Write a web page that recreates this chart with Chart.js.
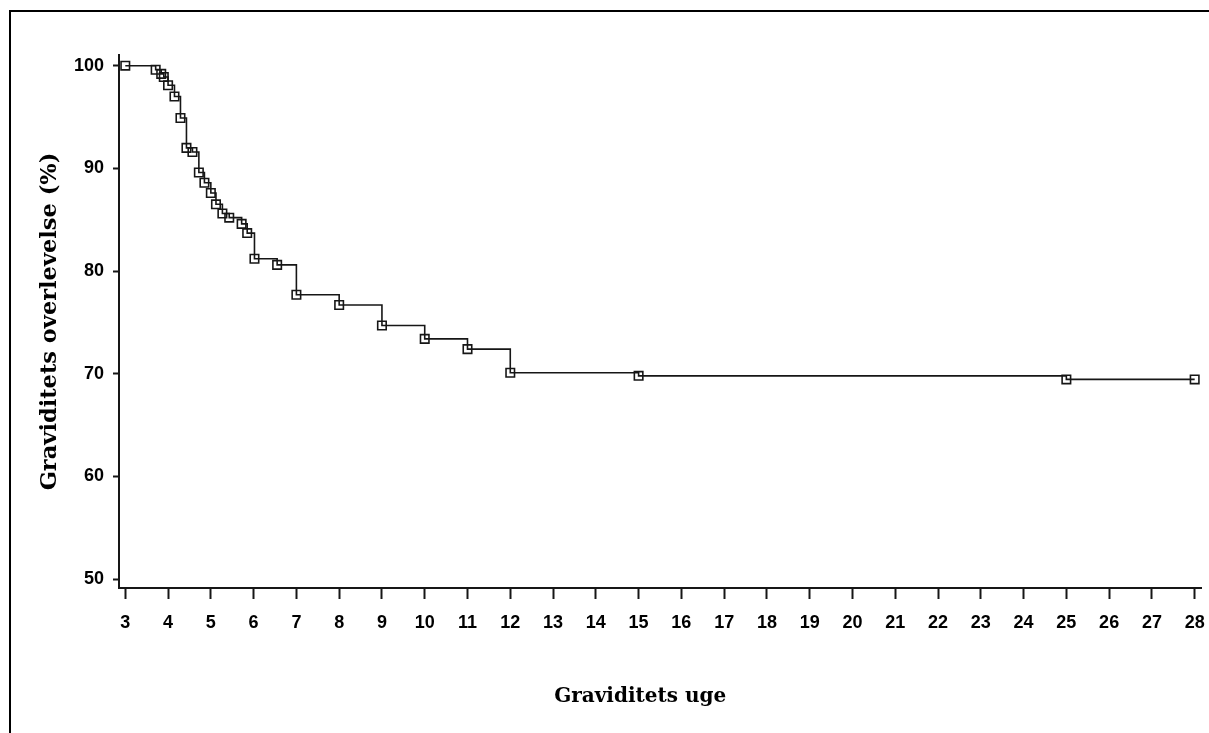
<!DOCTYPE html>
<html>
<head>
<meta charset="utf-8">
<script src="https://cdn.jsdelivr.net/npm/chart.js@4"></script>
<style>
  body { margin: 0; background: #fff; }
  #wrap { position: relative; width: 1209px; height: 733px; overflow: hidden; }
  #frame { position: absolute; left: 9px; top: 10px; right: -4px; bottom: -4px;
           border-left: 2px solid #000; border-top: 2px solid #000; }
  canvas { position: absolute; left: 0; top: 0; }
</style>
</head>
<body>
<div id="wrap">
  <div id="frame"></div>
  <canvas id="kmChart" width="1209" height="733"></canvas>
</div>
<script>
// -------------------- Data --------------------
const weeks = [3, 3.71, 3.84, 3.9, 4.0, 4.15, 4.29, 4.43, 4.57, 4.72, 4.85, 5.0, 5.12, 5.27, 5.43, 5.72, 5.85, 6.02, 6.55, 7, 8, 9, 10, 11, 12, 15, 25, 28];
const survival = [100, 99.6, 99.2, 98.9, 98.1, 97.0, 94.9, 92.0, 91.6, 89.6, 88.6, 87.6, 86.5, 85.6, 85.2, 84.6, 83.7, 81.2, 80.6, 77.7, 76.7, 74.7, 73.4, 72.4, 70.1, 69.8, 69.45, 69.45];
const xTicks = [3, 4, 5, 6, 7, 8, 9, 10, 11, 12, 13, 14, 15, 16, 17, 18, 19, 20, 21, 22, 23, 24, 25, 26, 27, 28];
const yTicks = [50, 60, 70, 80, 90, 100];

const yTitle = "Graviditets overlevelse (%)";
const xTitle = "Graviditets uge";

const ink = "#161616";
const tickFont = { family: "'Liberation Sans', Arial, sans-serif", size: 18, weight: "bold" };

// x-titeln sitter lite vänster om plotytans mitt i originalet
const xTitlePlugin = {
  id: "xTitlePlugin",
  afterDraw(chart) {
    const ctx = chart.ctx;
    const area = chart.chartArea;
    ctx.save();
    ctx.font = "bold 20px 'DejaVu Serif', serif";
    ctx.fillStyle = "#000";
    ctx.textAlign = "center";
    ctx.textBaseline = "middle";
    ctx.fillText(xTitle, (area.left + area.right) / 2 - 20, area.bottom + 109);
    ctx.restore();
  }
};

const ctx = document.getElementById("kmChart").getContext("2d");

new Chart(ctx, {
  type: "line",
  data: {
    datasets: [{
      data: weeks.map((w, i) => ({ x: w, y: survival[i] })),
      stepped: "before",
      borderColor: ink,
      borderWidth: 1.6,
      fill: false,
      pointStyle: "rect",
      pointRadius: 6,
      pointBorderWidth: 1.6,
      pointBorderColor: ink,
      pointBackgroundColor: "rgba(0,0,0,0)"
    }]
  },
  options: {
    responsive: false,
    animation: false,
    devicePixelRatio: 1,
    layout: { padding: { top: 55, right: 7, left: 0, bottom: 0 } },
    plugins: {
      legend: { display: false },
      tooltip: { enabled: false }
    },
    scales: {
      x: {
        type: "linear",
        min: 2.853,
        max: 28.157,
        afterBuildTicks: (scale) => { scale.ticks = xTicks.map(v => ({ value: v })); },
        afterFit: (scale) => {
          scale.height = 145;
          scale.paddingLeft = 0;
          scale.paddingRight = 0;
        },
        grid: { drawOnChartArea: false, drawTicks: true, tickLength: 11, tickWidth: 2, tickColor: ink },
        border: { display: true, color: ink, width: 2 },
        ticks: { color: "#000", font: tickFont, padding: 13, maxRotation: 0, autoSkip: false }
      },
      y: {
        type: "linear",
        min: 49.14,
        max: 101.04,
        afterBuildTicks: (scale) => { scale.ticks = yTicks.map(v => ({ value: v })); },
        afterFit: (scale) => {
          scale.width = 119;
          scale.paddingTop = 0;
          scale.paddingBottom = 0;
        },
        grid: { drawOnChartArea: false, drawTicks: true, tickLength: 6, tickWidth: 2, tickColor: ink },
        border: { display: true, color: ink, width: 2 },
        ticks: { color: "#000", font: tickFont, padding: 9 },
        title: {
          display: true,
          text: yTitle,
          color: "#000",
          font: { family: "'DejaVu Serif', serif", size: 22.5, weight: "bold" },
          padding: { top: 37, bottom: 0 }
        }
      }
    }
  },
  plugins: [xTitlePlugin]
});
</script>
</body>
</html>
